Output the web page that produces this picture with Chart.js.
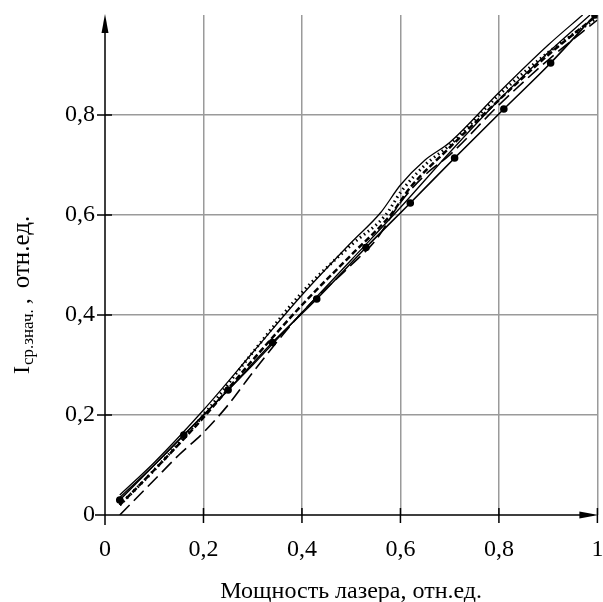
<!DOCTYPE html>
<html>
<head>
<meta charset="utf-8">
<script src="https://cdn.jsdelivr.net/npm/chart.js@4.4.1/dist/chart.umd.min.js"></script>
<style>
  html, body { margin: 0; padding: 0; background: #fff; }
  #wrap { width: 603px; height: 602px; }
</style>
</head>
<body>
<div id="wrap"><canvas id="chart" width="603" height="602"></canvas></div>
<script>
// Data (relative units)
const xTicks = [0, 0.2, 0.4, 0.6, 0.8, 1];
const yTicks = [0, 0.2, 0.4, 0.6, 0.8];

// solid line with round markers
const markX = [0.03, 0.16, 0.25, 0.34, 0.43, 0.53, 0.62, 0.71, 0.81, 0.905, 0.995];
const markY = [0.03, 0.16, 0.25, 0.345, 0.432, 0.535, 0.624, 0.714, 0.812, 0.904, 1.0];

// thin solid line, straight, just above the marker line
const solid2X = [0.03, 0.1, 0.2, 0.3, 0.4, 0.5, 0.6, 0.7, 0.8, 0.9, 0.985];
const solid2Y = [0.035, 0.1, 0.2, 0.3, 0.405, 0.51, 0.615, 0.725, 0.83, 0.925, 1.0];

// thin solid S-curve (upper)
const solid3X = [0.03, 0.1, 0.2, 0.3, 0.4, 0.5, 0.56, 0.6, 0.65, 0.7, 0.8, 0.9, 0.97];
const solid3Y = [0.04, 0.105, 0.21, 0.325, 0.44, 0.545, 0.605, 0.66, 0.71, 0.745, 0.845, 0.94, 1.0];

// dotted line
const dotX = [0.03, 0.1, 0.2, 0.3, 0.4, 0.5, 0.57, 0.6, 0.65, 0.7, 0.8, 0.9, 1.0];
const dotY = [0.02, 0.09, 0.2, 0.325, 0.445, 0.54, 0.6, 0.645, 0.7, 0.74, 0.84, 0.925, 0.995];

// long dashes
const dashX = [0.03, 0.1, 0.15, 0.2, 0.25, 0.3, 0.4, 0.5, 0.55, 0.6, 0.65, 0.7, 0.8, 0.9, 1.0];
const dashY = [0.0, 0.07, 0.12, 0.165, 0.22, 0.285, 0.405, 0.5, 0.55, 0.625, 0.68, 0.72, 0.82, 0.91, 0.99];

// short dashes
const dash2X = [0.03, 0.1, 0.2, 0.3, 0.4, 0.5, 0.58, 0.62, 0.7, 0.8, 0.9, 1.0];
const dash2Y = [0.02, 0.09, 0.195, 0.31, 0.42, 0.52, 0.6, 0.655, 0.735, 0.83, 0.92, 1.0];

const xTitle = 'Мощность лазера, отн.ед.';
const yTitleMain = 'I';
const yTitleSub = 'ср.знач.';
const yTitleComma = ',';
const yTitleRest = 'отн.ед.';

const serif = '"Liberation Serif", "DejaVu Serif", serif';

function pts(xs, ys) {
    return xs.map((x, i) => ({ x: x, y: ys[i] }));
}

function fmt(v) {
    return String(Math.round(v * 10) / 10).replace('.', ',');
}

// axes with arrows, crossing tick marks and the rotated y title
const axesPlugin = {
    id: 'axes',
    afterDraw(chart) {
        const ctx = chart.ctx;
        const xs = chart.scales.x, ys = chart.scales.y;
        const x0 = xs.getPixelForValue(0), y0 = ys.getPixelForValue(0);
        const xEnd = xs.getPixelForValue(1), yEnd = ys.getPixelForValue(1);
        ctx.save();
        ctx.strokeStyle = '#000';
        ctx.fillStyle = '#000';
        ctx.lineWidth = 1.5;
        ctx.beginPath();
        ctx.moveTo(x0 - 10, y0); ctx.lineTo(xEnd - 4, y0);
        ctx.moveTo(x0, y0 + 10); ctx.lineTo(x0, yEnd + 4);
        xTicks.forEach(v => {
            const p = xs.getPixelForValue(v);
            ctx.moveTo(p, y0 - 7); ctx.lineTo(p, y0 + 8);
        });
        yTicks.forEach(v => {
            const p = ys.getPixelForValue(v);
            ctx.moveTo(x0 - 8, p); ctx.lineTo(x0 + 7, p);
        });
        ctx.stroke();
        // arrow heads
        ctx.beginPath();
        ctx.moveTo(xEnd + 1, y0); ctx.lineTo(xEnd - 18, y0 - 3.5); ctx.lineTo(xEnd - 18, y0 + 3.5);
        ctx.closePath();
        ctx.fill();
        ctx.beginPath();
        ctx.moveTo(x0, yEnd - 1); ctx.lineTo(x0 - 3.5, yEnd + 18); ctx.lineTo(x0 + 3.5, yEnd + 18);
        ctx.closePath();
        ctx.fill();

        // y title: I with subscript, rotated
        ctx.translate(29, 374);
        ctx.rotate(-Math.PI / 2);
        ctx.textBaseline = 'alphabetic';
        ctx.textAlign = 'left';
        ctx.font = '24px ' + serif;
        ctx.fillText(yTitleMain, 0, 0);
        let w = ctx.measureText(yTitleMain).width + 1;
        ctx.font = '17px ' + serif;
        ctx.fillText(yTitleSub, w, 4);
        w += ctx.measureText(yTitleSub).width + 5;
        ctx.font = '24px ' + serif;
        ctx.fillText(yTitleComma, w, 0);
        w += ctx.measureText(yTitleComma).width + 10;
        ctx.font = '25px ' + serif;
        ctx.fillText(yTitleRest, w, 0);
        ctx.restore();
    }
};

const line = (data, extra) => Object.assign({
    data: data,
    borderColor: '#000',
    backgroundColor: '#000',
    borderWidth: 1.5,
    pointRadius: 0,
    fill: false,
    cubicInterpolationMode: 'monotone'
}, extra);

new Chart(document.getElementById('chart'), {
    type: 'line',
    data: {
        datasets: [
            line(pts(markX, markY), { pointRadius: 3, pointStyle: 'circle', borderWidth: 1.6 }),
            line(pts(solid2X, solid2Y), { borderWidth: 1.3 }),
            line(pts(solid3X, solid3Y), { borderWidth: 1.3 }),
            line(pts(dotX, dotY), { borderWidth: 3, borderDash: [1.5, 3.5] }),
            line(pts(dashX, dashY), { borderWidth: 1.6, borderDash: [14, 6] }),
            line(pts(dash2X, dash2Y), { borderWidth: 2.5, borderDash: [6, 3] })
        ]
    },
    options: {
        responsive: false,
        animation: false,
        layout: { padding: { left: 0, right: 4, top: 15, bottom: 0 } },
        plugins: {
            legend: { display: false },
            tooltip: { enabled: false }
        },
        scales: {
            x: {
                type: 'linear',
                min: 0,
                max: 1,
                afterFit: s => { s.height = 87; s.paddingLeft = 0; s.paddingRight = 0; },
                border: { display: false },
                grid: {
                    drawTicks: false,
                    color: c => c.tick.value === 0 ? 'rgba(0,0,0,0)' : '#9a9a9a',
                    lineWidth: 1.5
                },
                ticks: {
                    stepSize: 0.2,
                    padding: 20,
                    color: '#000',
                    font: { family: serif, size: 24 },
                    callback: v => fmt(v),
                    maxRotation: 0
                },
                title: {
                    display: true,
                    text: xTitle,
                    color: '#000',
                    font: { family: serif, size: 24 },
                    padding: { top: 0, bottom: -4 }
                }
            },
            y: {
                min: 0,
                max: 1,
                afterFit: s => { s.width = 105; s.paddingTop = 0; s.paddingBottom = 0; },
                border: { display: false },
                grid: {
                    drawTicks: false,
                    color: c => (c.tick.value === 0 || c.tick.value === 1) ? 'rgba(0,0,0,0)' : '#9a9a9a',
                    lineWidth: 1.5
                },
                ticks: {
                    stepSize: 0.2,
                    padding: 10,
                    color: '#000',
                    font: { family: serif, size: 24 },
                    callback: v => (v === 1 ? '' : fmt(v))
                }
            }
        }
    },
    plugins: [axesPlugin]
});
</script>
</body>
</html>
